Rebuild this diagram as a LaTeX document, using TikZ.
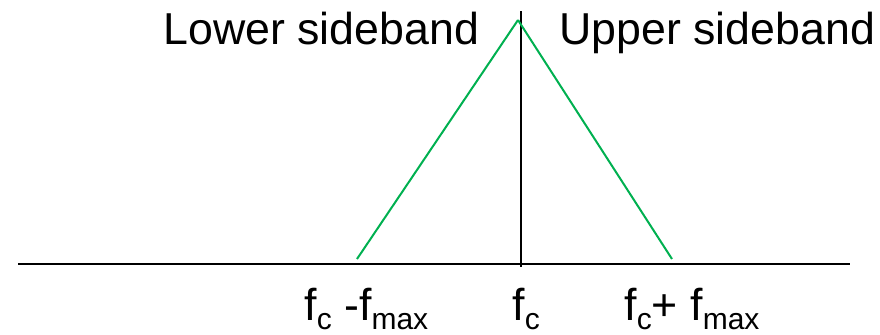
\documentclass[tikz,border=0pt]{standalone}
\usepackage{fontspec}
\setmainfont{Liberation Sans}
\usepackage{tikz}
\usepackage{xcolor}
\definecolor{bandgreen}{RGB}{0,176,80}
\newcommand{\lowsub}[1]{\raisebox{-4.6pt}{\fontsize{15}{15}\selectfont #1}}

\begin{document}
\begin{tikzpicture}[x=0.5pt,y=-0.5pt]
  \tikzset{axisline/.style={draw=black,line width=1pt}}
  \tikzset{bandline/.style={draw=bandgreen,line width=1pt}}
  \tikzset{bandlabel/.style={font=\fontsize{22.35}{26}\selectfont,inner sep=0pt,anchor=base west}}
  \useasboundingbox (0,0) rectangle (880,334);
  \coordinate (a0) at (18,264);
  \coordinate (a1) at (850,264);
  \coordinate (c0) at (521,11);
  \coordinate (c1) at (521,267);
  \coordinate (b0) at (357,259);
  \coordinate (b1) at (518,20);
  \coordinate (b2) at (672,259);
  \draw[axisline] (a0) -- (a1);
  \draw[axisline] (c0) -- (c1);
  \draw[bandline] (b0) -- (b1);
  \draw[bandline] (b1) -- (b2);
  \node[bandlabel] (lsb) at (163,44) {Lower sideband};
  \node[bandlabel] (usb) at (559,44) {Upper sideband};
  \node[bandlabel] (fl) at (304,320) {f\lowsub{c} -f\lowsub{max}};
  \node[bandlabel] (fm) at (512,320) {f\lowsub{c}};
  \node[bandlabel] (fu) at (624,320) {f\lowsub{c}+ f\lowsub{max}};
\end{tikzpicture}
\end{document}
